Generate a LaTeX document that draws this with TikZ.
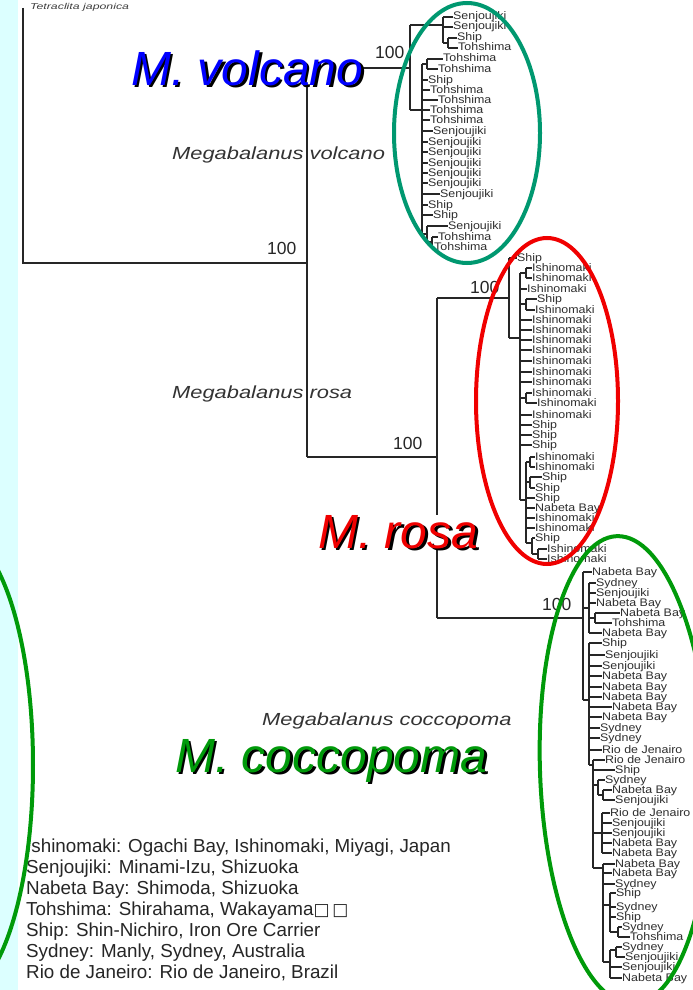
\documentclass[tikz,border=0pt]{standalone}
\usepackage{fontspec}
\setmainfont{Liberation Sans}
\newfontfamily\dejavu{DejaVu Sans}
\definecolor{cyanstrip}{HTML}{DCFFFF}
\definecolor{tealc}{HTML}{009870}
\definecolor{redc}{HTML}{F00000}
\definecolor{greenc}{HTML}{009A0A}
\definecolor{bluec}{HTML}{0000FF}
\newcommand\tlab[1]{\scalebox{1.13}[1]{#1}}
\newcommand\slab[1]{\scalebox{1.25}[1]{#1}}
\newcommand\shadowed[2]{\rlap{\raisebox{-2.5pt}[0pt][0pt]{\hspace{2.5pt}\color{black}#2}}\textcolor{#1}{#2}}
\begin{document}
\begin{tikzpicture}[x=1pt,y=-1pt,
  br/.style={line width=1.1pt, black!85},
  leaf/.style={anchor=west, inner sep=0pt, text=black!82, font=\fontsize{11}{11}\selectfont, text height=8pt, text depth=2pt},
  boot/.style={anchor=base west, inner sep=0pt, font=\fontsize{17.5}{17.5}\selectfont, text=black!85},
  spec/.style={anchor=base west, inner sep=0pt, font=\fontsize{17.5}{17.5}\selectfont\itshape, text=black!80},
  big/.style={anchor=base west, inner sep=0pt, font=\fontsize{48}{48}\selectfont\itshape, fill=white},
  ring/.style={line width=4pt},
  legend/.style={anchor=base west, inner sep=0pt, font=\fontsize{18.8}{18.8}\selectfont, text=black!85}
]
\useasboundingbox (0,0) rectangle (693,990);
\fill[white] (0,0) rectangle (693,990);
\fill[cyanstrip] (0,0) rectangle (18,990);

% ---- backbone
\node[anchor=base west, inner sep=0pt, text=black!75, font=\fontsize{8.5}{8.5}\selectfont\itshape] (tet) at (30,9.5) {\scalebox{1.45}[1]{Tetraclita japonica}};
\coordinate (root) at (23,263);
\coordinate (ing) at (307,263);
\draw[br] (23,8) -- (root) -- (ing);
\draw[br] (307,68) -- (307,457);
\draw[br] (307,68) -- (410,68);
\draw[br] (307,457) -- (437,457);

% ---- volcano clade
\draw[br] (410,25) -- (410,110);
\draw[br] (410,25) -- (443,25);
\draw[br] (443,17) -- (443,43);
\draw[br] (443,43) -- (448,43);
\draw[br] (448,38) -- (448,48);
\draw[br] (410,110) -- (422,110);
\draw[br] (422,64) -- (422,234);
\draw[br] (422,64) -- (427,64);
\draw[br] (427,59) -- (427,69);
\draw[br] (422,234) -- (427,234);
\draw[br] (427,226) -- (427,242);
\draw[br] (427,242) -- (432,242);
\draw[br] (432,237) -- (432,247);
\foreach \yy/\xa/\xb/\lbl [count=\i] in {
17/443/453/Senjoujiki, 27/443/453/Senjoujiki, 38/448/457/Ship, 48/448/458/Tohshima,
59/427/443/Tohshima, 69/427/438/Tohshima, 80/422/428/Ship, 90/422/430/Tohshima,
100/422/438/Tohshima, 110/422/430/Tohshima, 120/422/430/Tohshima, 131/422/433/Senjoujiki,
142/422/428/Senjoujiki, 152/422/428/Senjoujiki, 163/422/428/Senjoujiki, 173/422/428/Senjoujiki,
183/422/428/Senjoujiki, 194/422/440/Senjoujiki, 205/422/428/Ship, 215/422/433/Ship,
226/427/448/Senjoujiki, 237/432/438/Tohshima, 247/432/434/Tohshima}{
  \node[leaf] (v\i) at (\xb,\yy) {\tlab{\lbl}};
  \draw[br] (\xa,\yy) -- (v\i.west);
}

% ---- rosa clade
\draw[br] (437,298) -- (437,618);
\draw[br] (437,298) -- (509,298);
\draw[br] (509,258) -- (509,338);
\draw[br] (509,338) -- (520,338);
\draw[br] (520,273) -- (520,500);
\draw[br] (520,273) -- (526,273); \draw[br] (526,268) -- (526,278);
\draw[br] (520,304) -- (526,304); \draw[br] (526,299) -- (526,310);
\draw[br] (520,398) -- (526,398); \draw[br] (526,393) -- (526,403);
\draw[br] (520,500) -- (526,500); \draw[br] (526,462) -- (526,543);
\draw[br] (526,462) -- (530,462); \draw[br] (530,457) -- (530,467);
\draw[br] (526,482) -- (530,482); \draw[br] (530,477) -- (530,488);
\draw[br] (526,543) -- (532,543); \draw[br] (532,538) -- (532,554);
\draw[br] (532,554) -- (538,554); \draw[br] (538,549) -- (538,559);
\foreach \yy/\xa/\xb/\lbl [count=\i] in {
258/509/517/Ship, 268/526/532/Ishinomaki, 278/526/532/Ishinomaki, 289/520/527/Ishinomaki,
299/526/537/Ship, 310/526/535/Ishinomaki, 320/520/532/Ishinomaki, 330/520/532/Ishinomaki,
340/520/532/Ishinomaki, 350/520/532/Ishinomaki, 361/520/532/Ishinomaki, 372/520/532/Ishinomaki,
382/520/532/Ishinomaki, 393/526/532/Ishinomaki, 403/526/537/Ishinomaki, 415/520/532/Ishinomaki,
425/520/532/Ship, 435/520/532/Ship, 445/520/532/Ship, 457/530/535/Ishinomaki,
467/530/535/Ishinomaki, 477/530/542/Ship, 488/530/535/Ship, 498/526/535/Ship,
508/526/535/Nabeta Bay, 518/526/535/Ishinomaki, 528/526/535/Ishinomaki, 538/532/535/Ship,
549/538/547/Ishinomaki, 559/538/547/Ishinomaki}{
  \node[leaf] (r\i) at (\xb,\yy) {\tlab{\lbl}};
  \draw[br] (\xa,\yy) -- (r\i.west);
}

% ---- coccopoma clade
\draw[br] (437,618) -- (583,618);
\draw[br] (583,572) -- (583,700);
\draw[br] (583,608) -- (589,608); \draw[br] (589,583) -- (589,633);
\draw[br] (589,618) -- (595,618); \draw[br] (595,613) -- (595,623);
\draw[br] (583,700) -- (589,700); \draw[br] (589,643) -- (589,765);
\draw[br] (589,765) -- (593,765); \draw[br] (593,760) -- (593,868);
\draw[br] (593,785) -- (598,785); \draw[br] (598,780) -- (598,795);
\draw[br] (598,795) -- (603,795); \draw[br] (603,790) -- (603,800);
\draw[br] (593,833) -- (602,833); \draw[br] (602,813) -- (602,853);
\draw[br] (593,868) -- (603,868); \draw[br] (603,864) -- (603,962);
\draw[br] (603,905) -- (610,905); \draw[br] (610,893) -- (610,932);
\draw[br] (610,932) -- (618,932); \draw[br] (618,927) -- (618,937);
\draw[br] (603,962) -- (610,962); \draw[br] (610,950) -- (610,978);
\draw[br] (610,950) -- (616,950); \draw[br] (616,947) -- (616,957);
\foreach \yy/\xa/\xb/\lbl [count=\i] in {
572/583/592/Nabeta Bay, 583/589/596/Sydney, 593/589/596/Senjoujiki, 603/589/596/Nabeta Bay,
613/595/620/Nabeta Bay, 623/595/612/Tohshima, 633/589/602/Nabeta Bay, 643/589/602/Ship,
655/589/605/Senjoujiki, 666/589/602/Senjoujiki, 676/589/602/Nabeta Bay, 687/589/602/Nabeta Bay,
697/589/602/Nabeta Bay, 707/589/612/Nabeta Bay, 717/589/602/Nabeta Bay, 728/589/600/Sydney,
738/589/600/Sydney, 750/589/602/Rio de Jenairo, 760/593/605/Rio de Jenairo, 770/593/615/Ship,
780/598/605/Sydney, 790/603/612/Nabeta Bay, 800/603/615/Senjoujiki, 813/602/610/Rio de Jenairo,
823/602/612/Senjoujiki, 833/602/612/Senjoujiki, 843/602/612/Nabeta Bay, 853/602/612/Nabeta Bay,
864/603/615/Nabeta Bay, 873/603/612/Nabeta Bay, 884/603/615/Sydney, 893/610/616/Ship,
907/610/616/Sydney, 917/610/616/Ship, 927/618/622/Sydney, 937/618/630/Tohshima,
947/616/622/Sydney, 957/616/625/Senjoujiki, 967/610/622/Senjoujiki, 978/610/622/Nabeta Bay}{
  \node[leaf] (c\i) at (\xb,\yy) {\tlab{\lbl}};
  \draw[br] (\xa,\yy) -- (c\i.west);
}

% ---- species and support labels
\node[spec] (spv) at (172,159) {\slab{Megabalanus volcano}};
\node[spec] (spr) at (172,398) {\slab{Megabalanus rosa}};
\node[spec] (spc) at (262,725) {\slab{Megabalanus coccopoma}};
\node[boot] (b1) at (267,254) {100};
\node[boot] (b2) at (375,59) {100};
\node[boot] (b3) at (470,293) {100};
\node[boot] (b4) at (393,449) {100};
\node[boot] (b5) at (542,610) {100};

% ---- legend
\node[legend] (lg1) at (26,852) {Ishinomaki: Ogachi Bay, Ishinomaki, Miyagi, Japan};
\node[legend] (lg2) at (26,873) {Senjoujiki: Minami-Izu, Shizuoka};
\node[legend] (lg3) at (26,894) {Nabeta Bay: Shimoda, Shizuoka};
\node[legend] (lg4) at (26,915) {Tohshima: Shirahama, Wakayama{\dejavu\fontsize{17}{17}\selectfont □\,□}};
\node[legend] (lg5) at (26,936) {Ship: Shin-Nichiro, Iron Ore Carrier};
\node[legend] (lg6) at (26,957) {Sydney: Manly, Sydney, Australia};
\node[legend] (lg7) at (26,978) {Rio de Janeiro: Rio de Janeiro, Brazil};

% ---- big clade names (shadowed)
\node[big] (mv) at (131,85) {\shadowed{bluec}{M. volcano}};
\node[big] (mr) at (318,548) {\shadowed{redc}{M. rosa}};
\node[big] (mc) at (175,772) {\shadowed{greenc}{M. coccopoma}};

% ---- ellipses
\draw[ring, tealc] (467,133) ellipse [x radius=73, y radius=130];
\draw[ring, redc] (547,401) ellipse [x radius=71, y radius=163];
\draw[ring, greenc, rotate around={2:(625,770)}] (625,770) ellipse [x radius=85, y radius=234];
\draw[ring, greenc] (-42,765) ellipse [x radius=75, y radius=230];
\end{tikzpicture}
\end{document}
